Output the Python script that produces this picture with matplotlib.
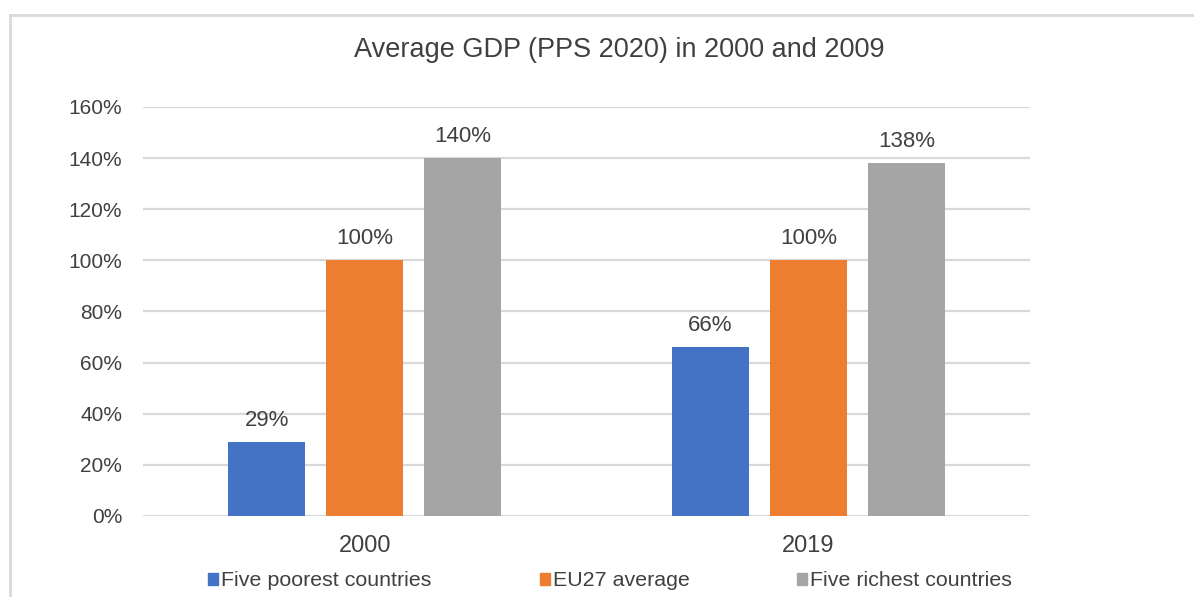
import numpy as np
import matplotlib.pyplot as plt
from matplotlib.patches import Patch
from matplotlib.lines import Line2D
from matplotlib.ticker import PercentFormatter

plt.rcParams["font.family"] = ["Liberation Sans", "DejaVu Sans"]

years = ["2000", "2019"]
series = ["Five poorest countries", "EU27 average", "Five richest countries"]
poorest = [0.29, 0.66]
eu27 = [1.00, 1.00]
richest = [1.40, 1.38]
colors = ["#4472C4", "#ED7D31", "#A5A5A5"]
TEXT = "#404040"
GRID = "#D9D9D9"

fig = plt.figure(figsize=(11.94, 5.97), dpi=100)
ax = fig.add_axes([0.1198, 0.1357, 0.7429, 0.6851])

x = np.arange(len(years))
width = 0.1736
step = 0.221
for i, (vals, name, col) in enumerate(zip([poorest, eu27, richest], series, colors)):
    pos = x + (i - 1) * step
    ax.bar(pos, vals, width=width, color=col, label=name, zorder=3)
    for px, v in zip(pos, vals):
        ax.annotate(f"{v * 100:.0f}%", (px, v), xytext=(0, 8), textcoords="offset points",
                    ha="center", va="bottom", fontsize=16, color=TEXT)

ax.set_xlim(-0.5, 1.5)
ax.set_ylim(0, 1.6)
ax.set_yticks(np.arange(0, 1.61, 0.2))
ax.yaxis.set_major_formatter(PercentFormatter(1.0, decimals=0))
ax.set_xticks(x, years)
ax.tick_params(axis="y", length=0, pad=15, labelsize=15, labelcolor=TEXT)
ax.tick_params(axis="x", length=0, pad=14, labelsize=17, labelcolor=TEXT)
ax.grid(axis="y", color=GRID, lw=1.6, zorder=0)
ax.set_axisbelow(True)
for s in ax.spines.values():
    s.set_visible(False)

fig.text(0.5184, 0.916, "Average GDP (PPS 2020) in 2000 and 2009", ha="center", va="center",
         fontsize=19.5, color=TEXT)

# one legend per entry so the spacing follows the chart's own layout
legend_x = [0.1742, 0.4523, 0.6675]
for lx, name, col in zip(legend_x, series, colors):
    fig.legend(handles=[Patch(color=col, label=name)], loc="center left",
               bbox_to_anchor=(lx, 0.027), frameon=False, fontsize=15.4,
               handlelength=0.45, handleheight=0.45, handletextpad=0.15,
               borderpad=0, borderaxespad=0, labelcolor=TEXT)

# light outer frame around the chart area
fig.add_artist(Line2D([10 / 1194, 1], [1 - 15 / 597] * 2, transform=fig.transFigure, color=GRID, lw=2))
fig.add_artist(Line2D([10 / 1194] * 2, [0, 1 - 15 / 597], transform=fig.transFigure, color=GRID, lw=2))

fig.savefig("out.png", dpi=100, facecolor="white")
